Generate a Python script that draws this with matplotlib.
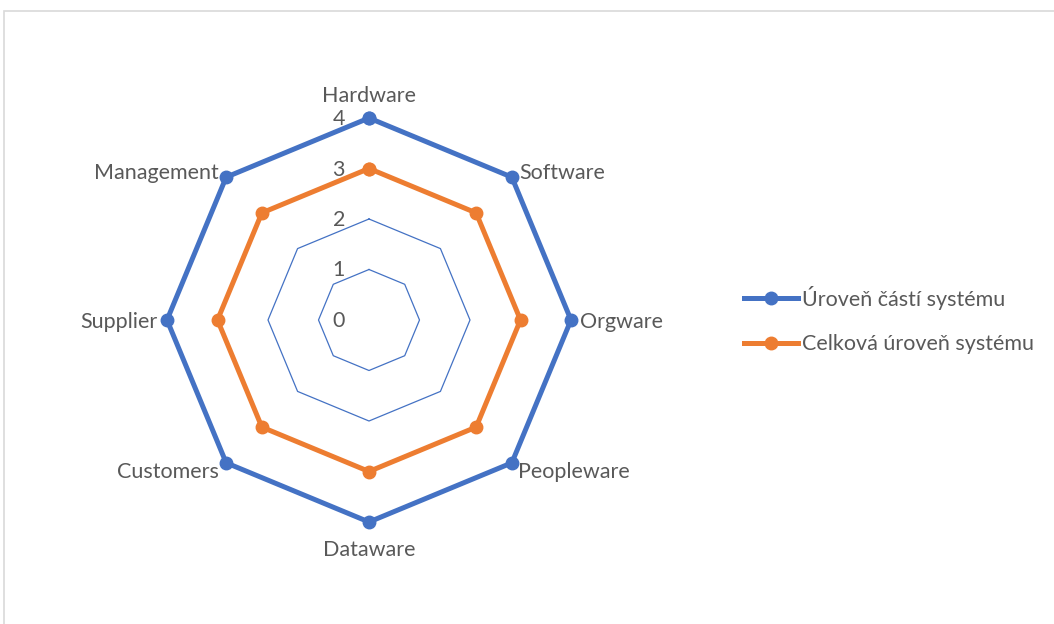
import matplotlib
matplotlib.use('Agg')
import matplotlib.pyplot as plt
import numpy as np
from matplotlib.patches import Rectangle

categories = ['Hardware', 'Software', 'Orgware', 'Peopleware',
              'Dataware', 'Customers', 'Supplier', 'Management']
parts_level = [4, 4, 4, 4, 4, 4, 4, 4]
total_level = [3, 3, 3, 3, 3, 3, 3, 3]
series_names = ['Úroveň částí systému', 'Celková úroveň systému']
r_ticks = [0, 1, 2, 3, 4]

BLUE = '#4472C4'
ORANGE = '#ED7D31'
GREY = '#595959'
FS = 15.5

plt.rcParams['font.family'] = ['Lato', 'DejaVu Sans']

W, H = 1054, 624
fig = plt.figure(figsize=(W / 100, H / 100), dpi=100)

# chart area border
fig.patches.append(Rectangle((4 / W, -0.1), 1.2, (H - 11) / H + 0.1,
                             transform=fig.transFigure, fill=False,
                             edgecolor='#D9D9D9', linewidth=1.2))

cx, cy, rad = 369, 320, 202
ax = fig.add_axes([(cx - rad) / W, (H - cy - rad) / H, 2 * rad / W, 2 * rad / H],
                  projection='polar')
ax.set_theta_zero_location('N')
ax.set_theta_direction(-1)
ax.set_ylim(0, 4)
ax.grid(False)
ax.spines['polar'].set_visible(False)
ax.set_xticks([])
ax.set_yticks([])
ax.patch.set_alpha(0)

n = len(categories)
angles = np.linspace(0, 2 * np.pi, n, endpoint=False)
closed = np.append(angles, angles[0])

# octagonal gridlines
for r in r_ticks[1:]:
    ax.plot(closed, [r] * (n + 1), color=BLUE, linewidth=0.9, zorder=1)

for vals, col, name in [(parts_level, BLUE, series_names[0]),
                        (total_level, ORANGE, series_names[1])]:
    v = np.append(vals, vals[0])
    ax.plot(closed, v, color=col, linewidth=3.6, marker='o', markersize=9,
            label=name, zorder=3, clip_on=False)

# radial value labels
for r in r_ticks:
    ax.annotate(str(r), xy=(0, r), xytext=(-24, -1), textcoords='offset pixels',
                ha='right', va='center', fontsize=FS, color=GREY)

# category labels
offsets = [(0, 22, 'center'), (7, 4, 'left'), (9, -2, 'left'), (6, -9, 'left'),
           (0, -28, 'center'), (-7, -9, 'right'), (-9, -2, 'right'), (-7, 4, 'right')]
for ang, cat, (dx, dy, ha) in zip(angles, categories, offsets):
    ax.annotate(cat, xy=(ang, 4), xytext=(dx, dy), textcoords='offset pixels',
                ha=ha, va='center', fontsize=FS, color=GREY,
                annotation_clip=False)

leg = fig.legend(loc='center left', bbox_to_anchor=(725 / W, 1 - 320 / H),
                 frameon=False, fontsize=FS, handlelength=2.5,
                 handletextpad=0.2, labelspacing=1.15, labelcolor=GREY)

fig.savefig('out.png', dpi=100)
